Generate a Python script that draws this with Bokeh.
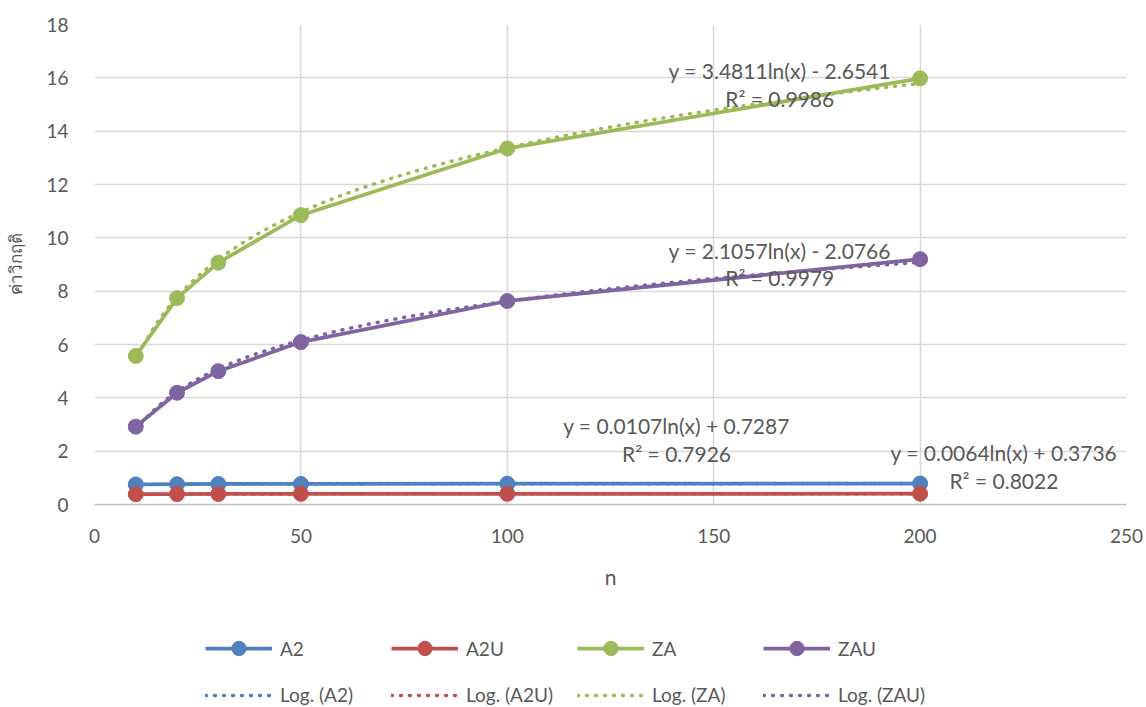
import numpy as np
from bokeh.plotting import figure
from bokeh.layouts import column
from bokeh.models import Legend, LegendItem, FixedTicker, Range1d
from bokeh.core.properties import value
from bokeh.embed import file_html
from bokeh.resources import INLINE

# ---- data ----
n = [10, 20, 30, 50, 100, 200]
A2 = [0.75, 0.76, 0.77, 0.77, 0.78, 0.785]
A2U = [0.385, 0.39, 0.395, 0.40, 0.40, 0.405]
ZA = [5.57, 7.74, 9.07, 10.85, 13.35, 15.98]
ZAU = [2.92, 4.19, 5.00, 6.09, 7.63, 9.20]

series_names = ["A2", "A2U", "ZA", "ZAU"]
series_vals = [A2, A2U, ZA, ZAU]
colors = ["#4f81bd", "#c0504d", "#9bbb59", "#8064a2"]

# log trend coefficients and R² as shown on the chart
trend_a = [0.0107, 0.0064, 3.4811, 2.1057]
trend_b = [0.7287, 0.3736, -2.6541, -2.0766]
trend_r2 = ["0.7926", "0.8022", "0.9986", "0.9979"]
# label anchor positions (data units)
lab_x = [141, 220.3, 166, 166]
lab_y_eq = [2.96, 1.95, 16.27, 9.52]
lab_y_r2 = [1.91, 0.90, 15.22, 8.51]

x_ticks = [0, 50, 100, 150, 200, 250]
y_ticks = list(range(0, 19, 2))

FONT = "Lato"
TXT = "#595959"
DOT = "1 8"

p = figure(width=1146, height=607, output_backend="svg", toolbar_location=None,
           x_range=Range1d(0, 250), y_range=Range1d(0, 18),
           frame_width=1032, frame_height=480,
           min_border_left=94, min_border_right=20, min_border_top=24, min_border_bottom=103)
p.outline_line_color = None
p.background_fill_color = "white"

for ax in (p.xaxis[0], p.yaxis[0]):
    ax.major_tick_line_color = None
    ax.minor_tick_line_color = None
    ax.major_label_text_font = FONT
    ax.major_label_text_font_size = "19px"
    ax.major_label_text_color = TXT
    ax.axis_label_text_font_style = "normal"
    ax.axis_label_text_color = TXT
p.xaxis[0].ticker = FixedTicker(ticks=x_ticks)
p.yaxis[0].ticker = FixedTicker(ticks=y_ticks)
p.xaxis[0].axis_line_color = "#bfbfbf"
p.xaxis[0].axis_line_width = 1.5
p.yaxis[0].axis_line_color = None
p.xaxis[0].axis_label = "n"
p.xaxis[0].axis_label_text_font = FONT
p.xaxis[0].axis_label_text_font_size = "21px"
p.xaxis[0].major_label_standoff = 18
p.xaxis[0].axis_label_standoff = 18
p.yaxis[0].axis_label = "ค่าวิกฤติ"
p.yaxis[0].axis_label_text_font = "Noto Sans"
p.yaxis[0].axis_label_text_font_size = "17px"
p.yaxis[0].major_label_standoff = 20
p.yaxis[0].axis_label_standoff = 16

p.xgrid.ticker = FixedTicker(ticks=x_ticks)
p.ygrid.ticker = FixedTicker(ticks=y_ticks)
p.xgrid.grid_line_color = "#d9d9d9"
p.ygrid.grid_line_color = "#d9d9d9"
p.xgrid.grid_line_width = 1.5
p.ygrid.grid_line_width = 1.5

xs_fit = np.linspace(min(n), max(n), 300)
for vals, c in zip(series_vals, colors):
    p.line(n, vals, line_color=c, line_width=3.75)
    p.scatter(n, vals, size=15, fill_color=c, line_color=c)
for a, b, c in zip(trend_a, trend_b, colors):
    p.line(xs_fit, a * np.log(xs_fit) + b, line_color=c, line_width=3.5,
           line_dash=DOT, line_cap="round")

eq_texts = []
for a, b in zip(trend_a, trend_b):
    sign = "+" if b >= 0 else "-"
    eq_texts.append(f"y = {a:.4f}ln(x) {sign} {abs(b):.4f}")
r2_texts = [f"R² = {r}" for r in trend_r2]
p.text(lab_x, lab_y_eq, text=eq_texts, text_font=value(FONT), text_font_size="21px",
       text_color=TXT, text_align="center", text_baseline="middle")
p.text(lab_x, lab_y_r2, text=r2_texts, text_font=value(FONT), text_font_size="21px",
       text_color=TXT, text_align="center", text_baseline="middle")

# ---- legend strip (series drawn out of its view; only the legend shows) ----
q = figure(width=1146, height=100, output_backend="svg", toolbar_location=None,
           x_range=Range1d(-2, -1), y_range=Range1d(-2, -1),
           min_border_left=0, min_border_right=0, min_border_top=0, min_border_bottom=0)
q.axis.visible = False
q.grid.visible = False
q.outline_line_color = None

row1, row2 = [], []
for name, vals, c in zip(series_names, series_vals, colors):
    l = q.line(n, vals, line_color=c, line_width=3.75)
    s = q.scatter(n, vals, size=15, fill_color=c, line_color=c)
    row1.append(LegendItem(label=name, renderers=[l, s]))
for name, vals, c in zip(series_names, series_vals, colors):
    t = q.line(n, vals, line_color=c, line_width=3.5, line_dash=DOT, line_cap="round")
    row2.append(LegendItem(label=f"Log. ({name})", renderers=[t]))

for items, loc, gh in ((row1, (111, 41), 36), (row2, (111, 1), 20)):
    lg = Legend(items=items, orientation="horizontal", location=loc,
                label_width=111, glyph_width=67, glyph_height=gh, label_height=20,
                spacing=0, label_standoff=8, padding=4, margin=0,
                border_line_color=None, background_fill_alpha=0,
                label_text_font=FONT, label_text_font_size="19px", label_text_color=TXT)
    q.add_layout(lg, "center")

layout = column(p, q, spacing=0)
open("out.html", "w").write(file_html(layout, INLINE))
